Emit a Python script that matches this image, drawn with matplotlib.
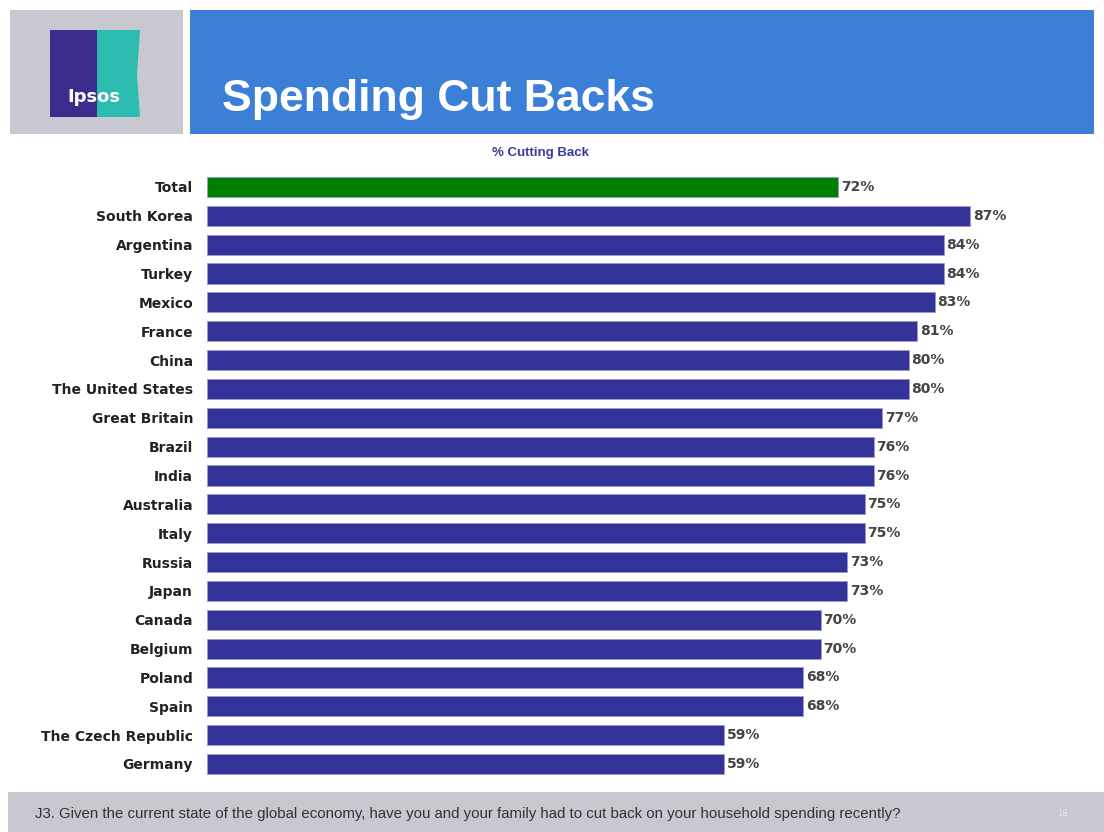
import matplotlib.pyplot as plt
from matplotlib.patches import Rectangle, Polygon

# data
countries = ['Total', 'South Korea', 'Argentina', 'Turkey', 'Mexico', 'France', 'China',
             'The United States', 'Great Britain', 'Brazil', 'India', 'Australia', 'Italy',
             'Russia', 'Japan', 'Canada', 'Belgium', 'Poland', 'Spain',
             'The Czech Republic', 'Germany']
values = [72, 87, 84, 84, 83, 81, 80, 80, 77, 76, 76, 75, 75, 73, 73, 70, 70, 68, 68, 59, 59]

W, H = 1104, 832
fig = plt.figure(figsize=(W / 100, H / 100), dpi=100)
fig.patch.set_facecolor('white')


def fx(x):
    return x / W


def fy(y):
    return 1 - y / H


def box(x0, y0, x1, y1, color):
    fig.patches.append(Rectangle((fx(x0), fy(y1)), fx(x1 - x0), (y1 - y0) / H,
                                 transform=fig.transFigure, facecolor=color,
                                 edgecolor='none', zorder=0))


# header
box(10, 10, 183, 134, '#c8c8d0')
box(190, 10, 1094, 134, '#3b80d6')
# logo
box(50, 30, 97, 117, '#3d2c8d')
fig.patches.append(Polygon([(fx(97), fy(30)), (fx(140), fy(30)), (fx(137), fy(75)),
                            (fx(140), fy(117)), (fx(97), fy(117))], closed=True,
                           transform=fig.transFigure, facecolor='#2cbcb0',
                           edgecolor='none', zorder=0))
fig.text(fx(94), fy(97), 'Ipsos', color='white', fontsize=13, fontweight='bold',
         ha='center', va='center')
fig.text(fx(222), fy(100), 'Spending Cut Backs', color='white', fontsize=32,
         fontweight='bold', ha='left', va='center', family='Liberation Sans')

fig.text(fx(540), fy(153), '% Cutting Back', color='#3a3a9a', fontsize=9.5,
         fontweight='bold', ha='center', va='center', family='Liberation Sans')

# footer
box(8, 792, 1104, 832, '#c8c8d0')
fig.text(fx(35), fy(814), 'J3. Given the current state of the global economy, have you and '
         'your family had to cut back on your household spending recently?',
         color='#333333', fontsize=10.8, ha='left', va='center', family='Liberation Sans')
fig.text(fx(1062), fy(814), '18', color='#e8e8ee', fontsize=6, ha='center', va='center')

# bars
step = (764 - 187) / 20
ax_top = 187 - step / 2
ax_h = step * 21
ax_left = 207
ax_w = 880
ax = fig.add_axes([fx(ax_left), fy(ax_top + ax_h), fx(ax_w), ax_h / H])
pos = list(range(len(countries)))
colors = ['#008000'] + ['#333399'] * (len(countries) - 1)
ax.barh(pos, values, height=0.7, color=colors, edgecolor='#9a9acc', linewidth=0.6)
ax.set_xlim(0, ax_w / ((970 - 207) / 87))
ax.set_ylim(len(countries) - 0.5, -0.5)
ax.set_yticks(pos)
ax.set_yticklabels(countries, fontsize=10, fontweight='bold', color='#222222')
ax.tick_params(axis='y', length=0, pad=10)
ax.set_xticks([])
for s in ax.spines.values():
    s.set_visible(False)
for p, v in zip(pos, values):
    ax.text(v + 0.3, p, f'{v}%', va='center', ha='left', fontsize=10,
            fontweight='bold', color='#444444')

fig.savefig('out.png', dpi=100)
